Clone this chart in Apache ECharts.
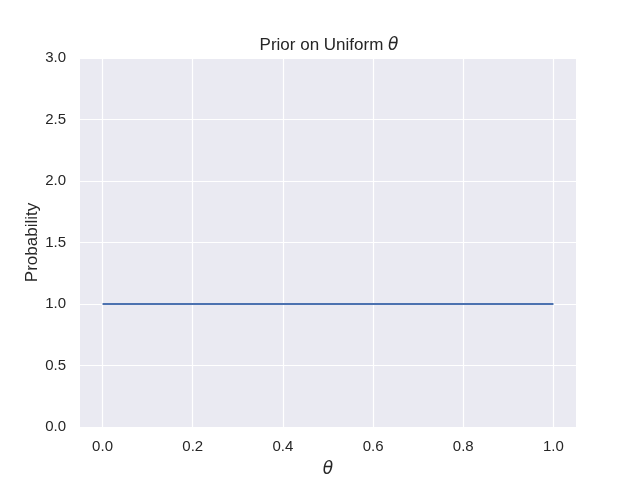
<!DOCTYPE html>
<html>
<head>
<meta charset="utf-8">
<script src="https://cdn.jsdelivr.net/npm/echarts@6/dist/echarts.min.js"></script>
<style>
    html, body {margin: 0; padding: 0; background: #ffffff;}
    #chart {width: 640px; height: 480px;}
</style>
</head>
<body>
<div id="chart"></div>
<script>
// values
const thetaValues = [0.0, 1.0];
const priorValues = [1.0, 1.0];
const xTicks = [0.0, 0.2, 0.4, 0.6, 0.8, 1.0];

const textColor = '#262626';
const sansFont = '"Liberation Sans", Arial, sans-serif';
const mathStyle = {fontFamily: '"DejaVu Sans"', fontStyle: 'italic', fontSize: 17, color: textColor};

document.addEventListener('DOMContentLoaded', () => {
    const chart = echarts.init(document.getElementById('chart'));
    chart.setOption({
        animation: false,
        backgroundColor: '#ffffff',
        title: {
            text: 'Prior on Uniform {m|θ}',
            left: 324,
            textAlign: 'center',
            top: 32,
            textStyle: {
                fontFamily: sansFont,
                fontWeight: 'normal',
                fontSize: 17,
                color: textColor,
                rich: {m: mathStyle}
            }
        },
        grid: {
            left: 80, right: 64, top: 58, bottom: 53,
            outerBoundsMode: 'none',
            show: true, backgroundColor: '#eaeaf2', borderWidth: 0
        },
        xAxis: {
            type: 'value',
            min: -0.05,
            max: 1.05,
            name: '{m|θ}',
            nameLocation: 'middle',
            nameGap: 34,
            nameMoveOverlap: false,
            nameTextStyle: {rich: {m: mathStyle}},
            axisLine: {show: false},
            axisTick: {show: false, customValues: xTicks},
            axisLabel: {
                customValues: xTicks,
                margin: 12,
                fontFamily: sansFont,
                fontSize: 15,
                color: textColor,
                formatter: v => v.toFixed(1)
            },
            splitLine: {show: true, lineStyle: {color: '#ffffff', width: 1.2}}
        },
        yAxis: {
            type: 'value',
            min: 0,
            max: 3,
            interval: 0.5,
            name: 'Probability',
            nameLocation: 'middle',
            nameGap: 39,
            nameMoveOverlap: false,
            nameTextStyle: {fontFamily: sansFont, fontSize: 17, color: textColor},
            axisLine: {show: false},
            axisTick: {show: false},
            axisLabel: {
                margin: 14,
                fontFamily: sansFont,
                fontSize: 15,
                color: textColor,
                formatter: v => v.toFixed(1)
            },
            splitLine: {show: true, lineStyle: {color: '#ffffff', width: 1.2}}
        },
        series: [{
            type: 'line',
            data: thetaValues.map((x, i) => [x, priorValues[i]]),
            showSymbol: false,
            lineStyle: {color: '#4c72b0', width: 2},
            itemStyle: {color: '#4c72b0'}
        }]
    });
});
</script>
</body>
</html>
